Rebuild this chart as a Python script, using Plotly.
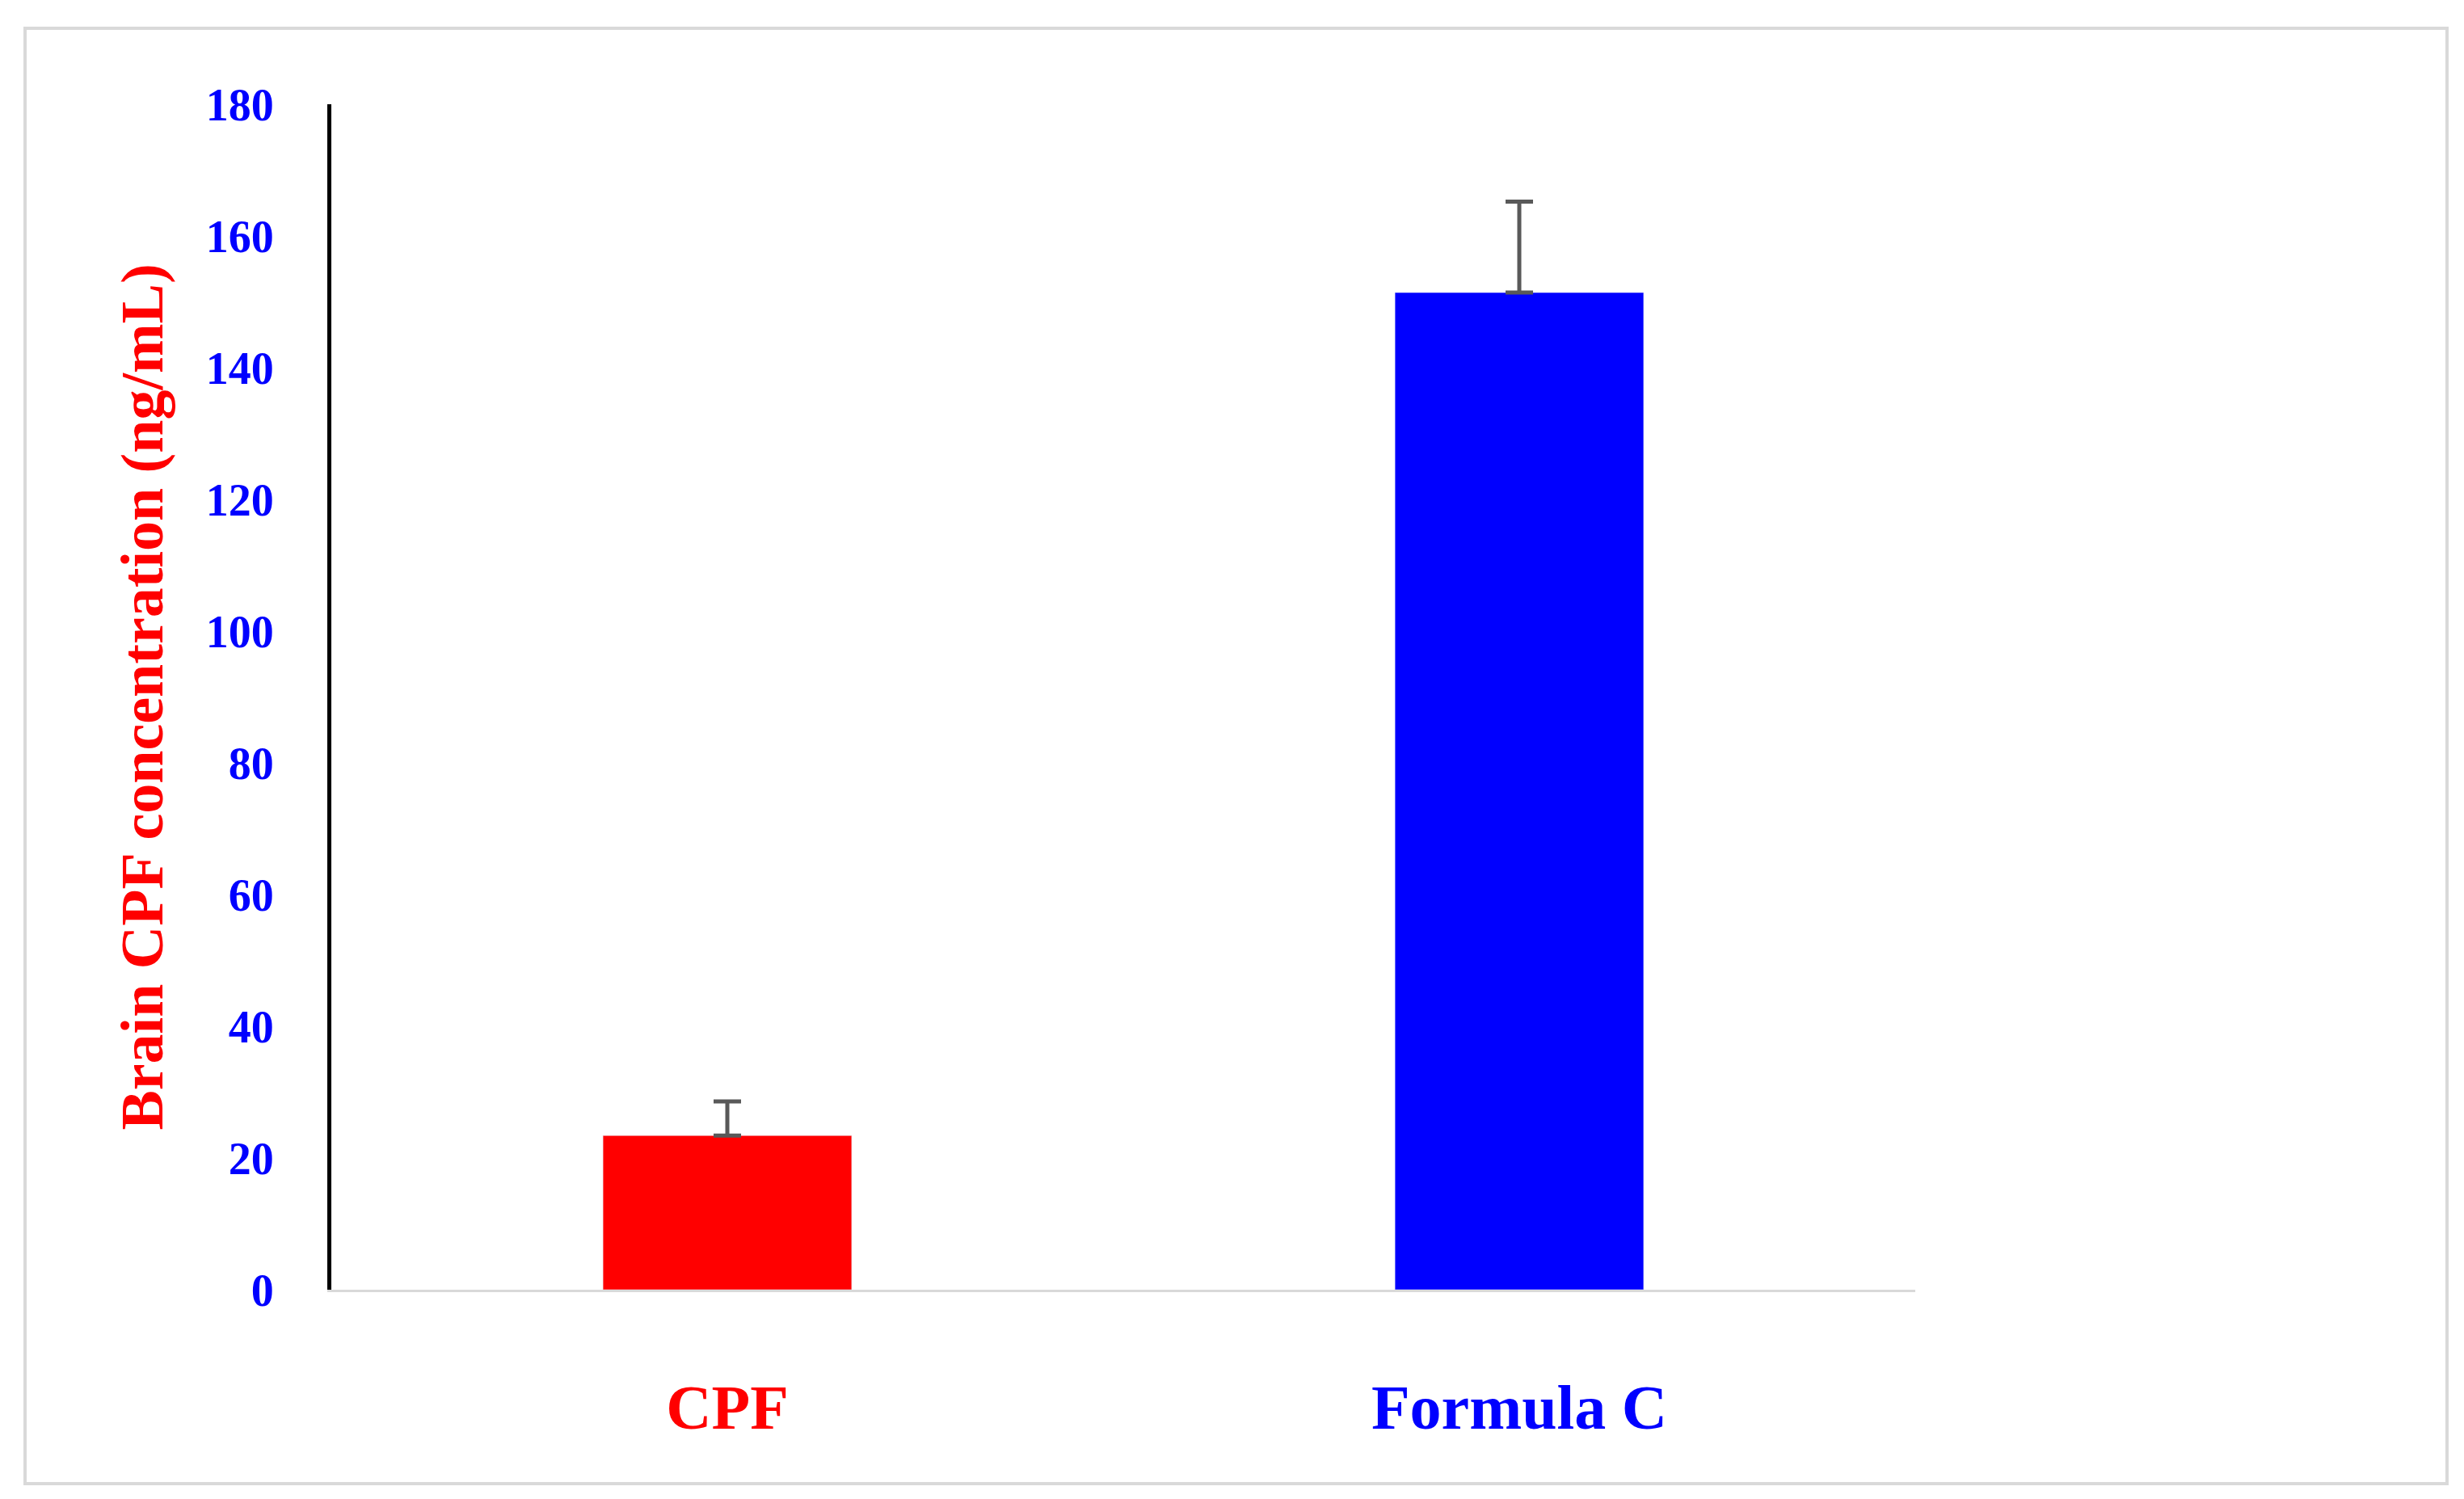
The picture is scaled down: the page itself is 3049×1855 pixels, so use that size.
import plotly.graph_objects as go

categories = ["CPF", "Formula C"]
values = [23.4, 151.4]
errors = [5.2, 13.8]
colors = ["#ff0000", "#0000ff"]
tick_vals = [0, 20, 40, 60, 80, 100, 120, 140, 160, 180]

W, H = 3049, 1855
L, R, T, B = 402, 687, 121, 267
pw, ph = W - L - R, H - T - B

fig = go.Figure(go.Bar(
    x=categories, y=values, marker_color=colors, width=0.314,
    error_y=dict(type="data", array=errors, symmetric=False, arrayminus=[0, 0],
                 color="#595959", thickness=5, width=17),
))
ticktext = [f"<span style='color:{c}'>{t}</span>" for t, c in zip(categories, colors)]
fig.update_layout(
    width=W, height=H, margin=dict(l=L, r=R, t=T, b=B),
    paper_bgcolor="white", plot_bgcolor="white", showlegend=False,
    font=dict(family="Liberation Serif", color="#0000ff"),
    xaxis=dict(tickvals=categories, ticktext=ticktext, showline=True, linecolor="#d9d9d9",
               linewidth=3, showgrid=False, ticks="", ticklabelstandoff=75,
               tickfont=dict(size=78, family="Liberation Serif", weight="bold")),
    yaxis=dict(range=[0, 180], tickvals=tick_vals, showline=True, linecolor="black", linewidth=5,
               showgrid=False, zeroline=False, ticks="", ticklabelstandoff=55,
               tickfont=dict(size=56, color="#0000ff", family="Liberation Serif", weight="bold"),
               title=dict(text="Brain CPF concentration (ng/mL)", standoff=30,
                          font=dict(size=74, color="#ff0000", family="Liberation Serif", weight="bold"))),
    shapes=[dict(type="rect", xref="paper", yref="paper",
                 x0=(23 - L) / pw, x1=(3020 - L) / pw,
                 y0=(H - B - 1828) / ph, y1=(H - B - 27) / ph,
                 line=dict(color="#d9d9d9", width=4), fillcolor="rgba(0,0,0,0)", layer="below")],
)
fig.write_html("out.html")
